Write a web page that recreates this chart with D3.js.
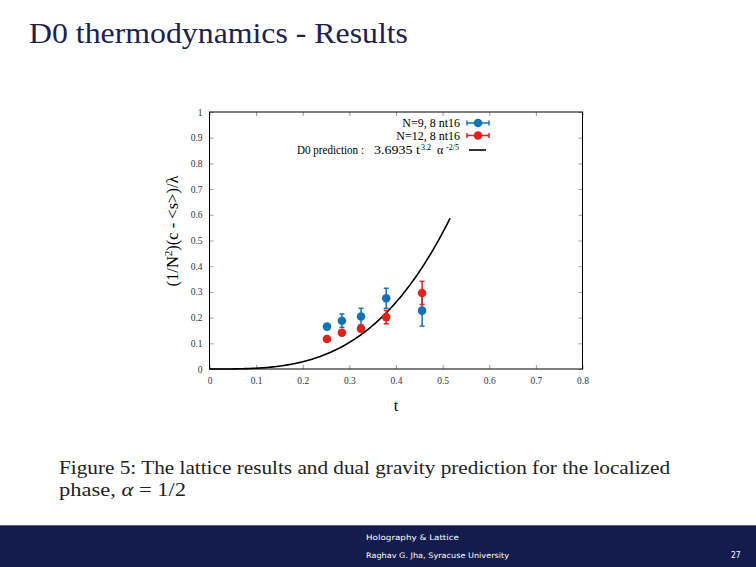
<!DOCTYPE html>
<html>
<head>
<meta charset="utf-8">
<script src="https://cdn.jsdelivr.net/npm/d3@7"></script>
<style>
  body { margin: 0; background: #fff; }
</style>
</head>
<body>
<svg id="chart" width="756" height="567" font-family="Liberation Serif, serif"></svg>
<script>
// data
const tN9 = [0.252, 0.284, 0.325, 0.379, 0.456];
const valN9 = [0.165, 0.188, 0.204, 0.275, 0.227];
const errN9 = [0.008, 0.026, 0.032, 0.039, 0.060];
const tN12 = [0.252, 0.284, 0.325, 0.379, 0.456];
const valN12 = [0.117, 0.141, 0.157, 0.202, 0.296];
const errN12 = [0.007, 0.010, 0.012, 0.026, 0.045];
const seriesNames = ["N=9, 8 nt16", "N=12, 8 nt16"];
const xTicks = [0, 0.1, 0.2, 0.3, 0.4, 0.5, 0.6, 0.7, 0.8];
const yTicks = [0, 0.1, 0.2, 0.3, 0.4, 0.5, 0.6, 0.7, 0.8, 0.9, 1];
// D0 prediction: 3.6935 t^3.2 alpha^(-2/5), alpha = 1/2
const predCoef = 3.6935, predExp = 3.2, alpha = 0.5, predTmax = 0.518;

const svg = d3.select("#chart");
const sans = "DejaVu Sans Condensed";

//slide title
svg.append("text")
  .attr("x", 29).attr("y", 43)
  .attr("font-size", 29).attr("fill", "#1c2150")
  .attr("textLength", 379).attr("lengthAdjust", "spacingAndGlyphs")
  .text("D0 thermodynamics - Results");

//plot box
const margin = { left: 209.5, right: 582.5, top: 112, bottom: 369 };
const x = d3.scaleLinear().domain([0, 0.8]).range([margin.left, margin.right]);
const y = d3.scaleLinear().domain([0, 1]).range([margin.bottom, margin.top]);

const g = svg.append("g");

// axes (ticks inward, mirrored)
const axB = g.append("g").attr("transform", `translate(0,${margin.bottom})`)
  .call(d3.axisBottom(x).tickValues(xTicks).tickSize(-4).tickSizeOuter(0).tickPadding(8)
    .tickFormat(d3.format("")));
const axT = g.append("g").attr("transform", `translate(0,${margin.top})`)
  .call(d3.axisTop(x).tickValues(xTicks).tickSize(-4).tickSizeOuter(0).tickFormat(""));
const axL = g.append("g").attr("transform", `translate(${margin.left},0)`)
  .call(d3.axisLeft(y).tickValues(yTicks).tickSize(-4).tickSizeOuter(0).tickPadding(7)
    .tickFormat(d3.format("")));
const axR = g.append("g").attr("transform", `translate(${margin.right},0)`)
  .call(d3.axisRight(y).tickValues(yTicks).tickSize(-4).tickSizeOuter(0).tickFormat(""));
[axB, axT, axL, axR].forEach(a => {
  a.attr("font-family", "Liberation Serif").attr("font-size", 9.5);
  a.select(".domain").remove();
  a.selectAll("line").attr("stroke", "#555").attr("stroke-width", 0.6);
  a.selectAll("text").attr("fill", "#333");
});
g.append("rect")
  .attr("x", margin.left).attr("y", margin.top)
  .attr("width", margin.right - margin.left).attr("height", margin.bottom - margin.top)
  .attr("fill", "none").attr("stroke", "#000").attr("stroke-width", 1);

// axis titles
svg.append("text")
  .attr("x", 396).attr("y", 411).attr("text-anchor", "middle")
  .attr("font-size", 16).text("t");
const yl = svg.append("text")
  .attr("transform", "translate(178,231) rotate(-90)")
  .attr("text-anchor", "middle").attr("font-size", 16.5);
yl.append("tspan").text("(1/N");
yl.append("tspan").attr("dy", -6).attr("font-size", 11).text("2");
yl.append("tspan").attr("dy", 6).text(")(c - <s>)/λ");

// prediction curve
const tGrid = d3.range(0, predTmax + 1e-9, 0.004);
const pred = t => predCoef * Math.pow(t, predExp) * Math.pow(alpha, -2 / 5);
g.append("path")
  .datum(tGrid)
  .attr("d", d3.line().x(d => x(d)).y(d => y(pred(d))))
  .attr("fill", "none").attr("stroke", "#000").attr("stroke-width", 1.6);

// data points with error bars
const colors = ["#1372b6", "#e2231a"];
const sets = [
  { t: tN9, v: valN9, e: errN9, c: colors[0] },
  { t: tN12, v: valN12, e: errN12, c: colors[1] }
];
sets.forEach(s => {
  const pts = s.t.map((t, i) => ({ t, v: s.v[i], e: s.e[i] }));
  const pg = g.append("g");
  pg.selectAll(".eb").data(pts).enter().append("line")
    .attr("x1", d => x(d.t)).attr("x2", d => x(d.t))
    .attr("y1", d => y(d.v - d.e)).attr("y2", d => y(d.v + d.e))
    .attr("stroke", s.c).attr("stroke-width", 1.5);
  [-1, 1].forEach(sg => {
    pg.selectAll(".cap" + sg).data(pts).enter().append("line")
      .attr("x1", d => x(d.t) - 2.5).attr("x2", d => x(d.t) + 2.5)
      .attr("y1", d => y(d.v + sg * d.e)).attr("y2", d => y(d.v + sg * d.e))
      .attr("stroke", s.c).attr("stroke-width", 1.5);
  });
  pg.selectAll("circle").data(pts).enter().append("circle")
    .attr("cx", d => x(d.t)).attr("cy", d => y(d.v)).attr("r", 4.3)
    .attr("fill", s.c);
});

// legend
const legY = [123, 135.5, 150];
const legX = 460;
seriesNames.forEach((name, i) => {
  svg.append("text").attr("x", legX).attr("y", legY[i] + 4)
    .attr("text-anchor", "end").attr("font-size", 12).text(name);
  svg.append("line").attr("x1", 467).attr("x2", 489).attr("y1", legY[i]).attr("y2", legY[i])
    .attr("stroke", colors[i]).attr("stroke-width", 1.5);
  [467, 489].forEach(cx => svg.append("line").attr("x1", cx).attr("x2", cx)
    .attr("y1", legY[i] - 2.5).attr("y2", legY[i] + 2.5)
    .attr("stroke", colors[i]).attr("stroke-width", 1.5));
  svg.append("circle").attr("cx", 478).attr("cy", legY[i]).attr("r", 4.3).attr("fill", colors[i]);
});
const legPred = svg.append("g").attr("font-size", 12);
legPred.append("text").attr("x", 297).attr("y", legY[2] + 4)
  .attr("textLength", 67).attr("lengthAdjust", "spacingAndGlyphs").text("D0 prediction :");
legPred.append("text").attr("x", 374).attr("y", legY[2] + 4)
  .attr("textLength", 46).attr("lengthAdjust", "spacingAndGlyphs").text(predCoef + " t");
legPred.append("text").attr("x", 421).attr("y", legY[2])
  .attr("font-size", 8).text("3.2");
legPred.append("text").attr("x", 437).attr("y", legY[2] + 4).text("α");
legPred.append("text").attr("x", 446).attr("y", legY[2])
  .attr("font-size", 8).text("-2/5");
svg.append("line").attr("x1", 469).attr("x2", 486).attr("y1", legY[2]).attr("y2", legY[2])
  .attr("stroke", "#000").attr("stroke-width", 1.6);

// caption
svg.append("text").attr("x", 59).attr("y", 474).attr("font-size", 18.5).attr("fill", "#222")
  .attr("textLength", 611).attr("lengthAdjust", "spacingAndGlyphs")
  .text("Figure 5: The lattice results and dual gravity prediction for the localized");
const cap2 = svg.append("text").attr("x", 59).attr("y", 496).attr("font-size", 18.5).attr("fill", "#222")
  .attr("textLength", 127).attr("lengthAdjust", "spacingAndGlyphs");
cap2.append("tspan").text("phase, ");
cap2.append("tspan").attr("font-style", "italic").text("α");
cap2.append("tspan").text(" = 1/2");

// footer band
svg.append("rect").attr("x", 0).attr("y", 525).attr("width", 756).attr("height", 42).attr("fill", "#141c4d");
svg.append("line").attr("x1", 0).attr("x2", 756).attr("y1", 525.5).attr("y2", 525.5)
  .attr("stroke", "#5a6290").attr("stroke-width", 1);
const foot = svg.append("g").attr("font-family", sans).attr("font-size", 7.5).attr("fill", "#fff");
foot.append("text").attr("x", 366).attr("y", 540).attr("textLength", 93)
  .attr("lengthAdjust", "spacingAndGlyphs").text("Holography & Lattice");
foot.append("text").attr("x", 366).attr("y", 558).attr("textLength", 143)
  .attr("lengthAdjust", "spacingAndGlyphs").text("Raghav G. Jha, Syracuse University");
foot.append("text").attr("x", 731).attr("y", 558).attr("font-size", 8.5).text("27");
</script>
</body>
</html>
